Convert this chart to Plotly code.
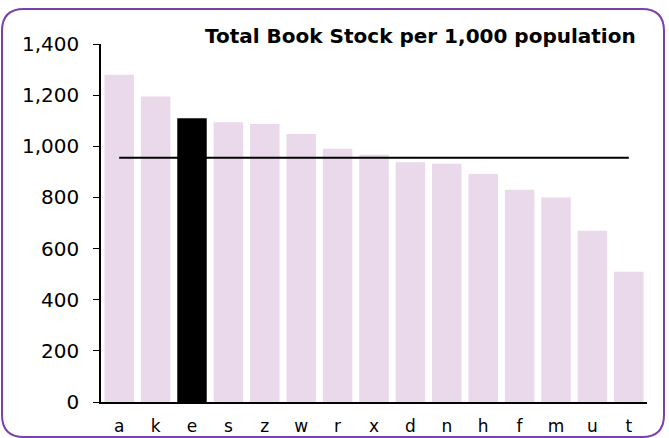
import plotly.graph_objects as go

categories = ["a", "k", "e", "s", "z", "w", "r", "x", "d", "n", "h", "f", "m", "u", "t"]
values = [1280, 1195, 1110, 1094, 1087, 1048, 990, 967, 938, 932, 892, 830, 800, 670, 509]
highlight = "e"
average = 955
y_ticks = [0, 200, 400, 600, 800, 1000, 1200, 1400]
title = "Total Book Stock per 1,000 population"

W, H = 669, 438
L, R, T, B = 101, 22, 44, 36
pw, ph = W - L - R, H - T - B

bar_colors = ["#000000" if c == highlight else "#EAD8EB" for c in categories]

fig = go.Figure()
fig.add_trace(go.Bar(x=categories, y=values, marker=dict(color=bar_colors, line=dict(width=0)),
                     showlegend=False, hoverinfo="x+y"))
fig.add_trace(go.Scatter(x=categories, y=[average] * len(categories), mode="lines",
                         line=dict(color="#000000", width=2), showlegend=False))

def px(x):
    return (x - L) / pw

def py(y):
    return (H - B - y) / ph

# rounded border
x0, x1, y0, y1, r = 2, 664, 9, 437, 22
path = (f"M {px(x0 + r)},{py(y0)} L {px(x1 - r)},{py(y0)} "
        f"Q {px(x1)},{py(y0)} {px(x1)},{py(y0 + r)} L {px(x1)},{py(y1 - r)} "
        f"Q {px(x1)},{py(y1)} {px(x1 - r)},{py(y1)} L {px(x0 + r)},{py(y1)} "
        f"Q {px(x0)},{py(y1)} {px(x0)},{py(y1 - r)} L {px(x0)},{py(y0 + r)} "
        f"Q {px(x0)},{py(y0)} {px(x0 + r)},{py(y0)} Z")
fig.add_shape(type="path", path=path, xref="paper", yref="paper",
              line=dict(color="#7B40AC", width=2), layer="above")

fig.add_annotation(text=f"<b>{title}</b>", xref="paper", yref="paper",
                   x=px(638), y=py(36), xanchor="right", yanchor="middle",
                   showarrow=False, font=dict(size=20, color="#000000"))

fig.update_layout(
    width=W, height=H,
    margin=dict(l=L, r=R, t=T, b=B, pad=0, autoexpand=False),
    paper_bgcolor="white", plot_bgcolor="white",
    bargap=0.19,
    font=dict(family="DejaVu Sans, Verdana, sans-serif", color="#000000"),
)
fig.update_xaxes(showline=True, linecolor="#000000", linewidth=1.5, ticks="",
                 showgrid=False, tickfont=dict(size=17), ticklabelstandoff=8,
                 automargin=False)
fig.update_yaxes(range=[0, 1400], tickvals=y_ticks, tickformat=",d",
                 showline=True, linecolor="#000000", linewidth=1.5,
                 ticks="outside", ticklen=6, tickcolor="#000000",
                 showgrid=False, zeroline=False, tickfont=dict(size=20),
                 ticklabelstandoff=10, automargin=False)

fig.write_html("out.html", config={"displayModeBar": False},
               post_script="document.body.style.margin='0';document.body.style.overflow='hidden';")
